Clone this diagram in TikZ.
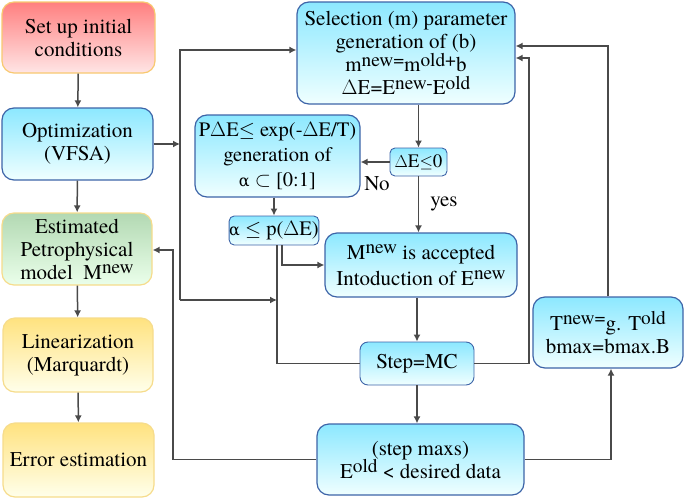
\documentclass[tikz,border=0pt]{standalone}
\usepackage{fontspec}
\setmainfont{texgyretermes}[Extension=.otf,UprightFont=*-regular,BoldFont=*-bold,ItalicFont=*-italic]
\newfontfamily\grk{DejaVu Serif}
\usepackage{tikz}
\usetikzlibrary{positioning}
\usetikzlibrary{arrows.meta}
\newcommand\sps[1]{\raisebox{0.55ex}{\scalebox{0.92}{#1}}}
\newcommand\alf{{\grk\fontsize{16}{16}\selectfont α}}
\definecolor{lnclr}{HTML}{4A4A4A}
\definecolor{bdblue}{HTML}{3D64A8}
\definecolor{bdyel}{HTML}{F6DC8C}
\tikzset{
 box/.style={draw,line width=1.2pt,rounded corners=12pt,align=center,inner sep=0pt,
  font=\fontsize{21}{23}\selectfont},
 bluebox/.style={box,draw=bdblue,top color=blue!20!cyan!45,bottom color=cyan!6},
 sbox/.style={bluebox,rounded corners=5pt,line width=0.9pt},
 redbox/.style={box,draw=bdyel!80!orange,top color=red!50,bottom color=red!10},
 greenbox/.style={box,draw=bdyel,top color=green!50!black!30!white,bottom color=green!8},
 yelbox/.style={box,draw=bdyel,top color=yellow!55!orange!50!white,bottom color=yellow!8},
 arr/.style={draw=lnclr,line width=1.5pt,-{Latex[length=7pt,width=7pt]}},
 ln/.style={draw=lnclr,line width=1.5pt},
 lbl/.style={font=\fontsize{21}{23}\selectfont,inner sep=0pt}
}
\begin{document}
\begin{tikzpicture}[x=1pt,y=-1pt]
 \useasboundingbox (0,0) rectangle (685,498);
 \node[redbox,minimum width=153pt,minimum height=71pt] (init) at (78.5,37.5) {Set up initial\\conditions};
 \node[bluebox,minimum width=151pt,minimum height=72pt] (opt) at (77.5,144) {Optimization\\(VFSA)};
 \node[greenbox,minimum width=150pt,minimum height=72pt] (est) at (77,249) {Estimated\\Petrophysical\\model \ M\sps{new}};
 \node[yelbox,minimum width=150pt,minimum height=74pt] (lin) at (78,355) {Linearization\\(Marquardt)};
 \node[yelbox,minimum width=151pt,minimum height=74pt] (err) at (78.5,460) {Error estimation};
 \node[bluebox,minimum width=218pt,minimum height=102pt] (sel) at (406,53) {Selection (m) parameter\\generation of (b)\\m\sps{new=}m\sps{old+}b\\$\Delta$E=E\sps{new-}E\sps{old}};
 \node[sbox,minimum width=57pt,minimum height=28pt,font=\fontsize{19}{23}\selectfont] (dE) at (418.5,162) {$\Delta$E$\leq$0};
 \node[bluebox,minimum width=165pt,minimum height=82pt,font=\fontsize{20.5}{25}\selectfont] (pde) at (277.5,156) {P$\Delta$E$\leq$ exp(-$\Delta$E/T)\\generation of\\\alf\ $\subset$ [0:1]};
 \node[sbox,minimum width=88pt,minimum height=29pt,font=\fontsize{20.5}{23}\selectfont] (alp) at (274,230.5) {\alf\ $\leq$ p($\Delta$E)};
 \node[bluebox,minimum width=192pt,minimum height=64pt,font=\fontsize{21}{26}\selectfont] (acc) at (421,265) {M\sps{new} is accepted\\Intoduction of E\sps{new}};
 \node[sbox,minimum width=114pt,minimum height=43pt,rounded corners=8pt] (step) at (417,363.5) {Step=MC};
 \node[bluebox,minimum width=207pt,minimum height=71pt] (smax) at (420.5,459.5) {(step maxs)\\E\sps{old} < desired data};
 \node[bluebox,minimum width=150pt,minimum height=71pt] (tnew) at (608,332.5) {T\sps{new=}g. T\sps{old}\\bmax=bmax.B};
 \node[lbl] (no) at (377,184) {No};
 \node[lbl] (yes) at (444,204) {yes};
 \coordinate (j1) at (180,50);
 \coordinate (j2) at (180,300);
 \coordinate (j3) at (277,300);
 \coordinate (r1) at (529,58);
 \coordinate (r2) at (608,46);
 \coordinate (l1) at (173,250);
 \draw[arr] (init) -- (opt);
 \draw[arr] (opt) -- (est);
 \draw[arr] (est) -- (lin);
 \draw[arr] (lin) -- (err);
 \draw[arr] (opt.east) -- (opt.east -| j1);
 \draw[arr] (j2) -- (j1) -- (sel.west |- j1);
 \draw[arr] (j2) -- (j3);
 \draw[arr] (dE.north |- sel.south) -- (dE.north);
 \draw[arr] (dE.west) -- (pde.east |- dE.west);
 \draw[arr] (dE.south) -- (dE.south |- acc.north);
 \draw[arr] (alp.north |- pde.south) -- (alp.north);
 \draw[arr] ([xshift=8pt]alp.south) |- (acc.west);
 \draw[ln] ([xshift=3pt]alp.south) |- (step.west);
 \draw[arr] (acc.south -| step.north) -- (step.north);
 \draw[arr] (step.south) -- (smax.north -| step.south);
 \draw[arr] (step.east) -| (r1) -- (sel.east |- r1);
 \draw[arr] (tnew.north) -- (r2) -- (sel.east |- r2);
 \draw[arr] (smax.east) -| ([xshift=3pt]tnew.south);
 \draw[arr] (smax.west) -| (l1) -- (est.east |- l1);
\end{tikzpicture}
\end{document}
